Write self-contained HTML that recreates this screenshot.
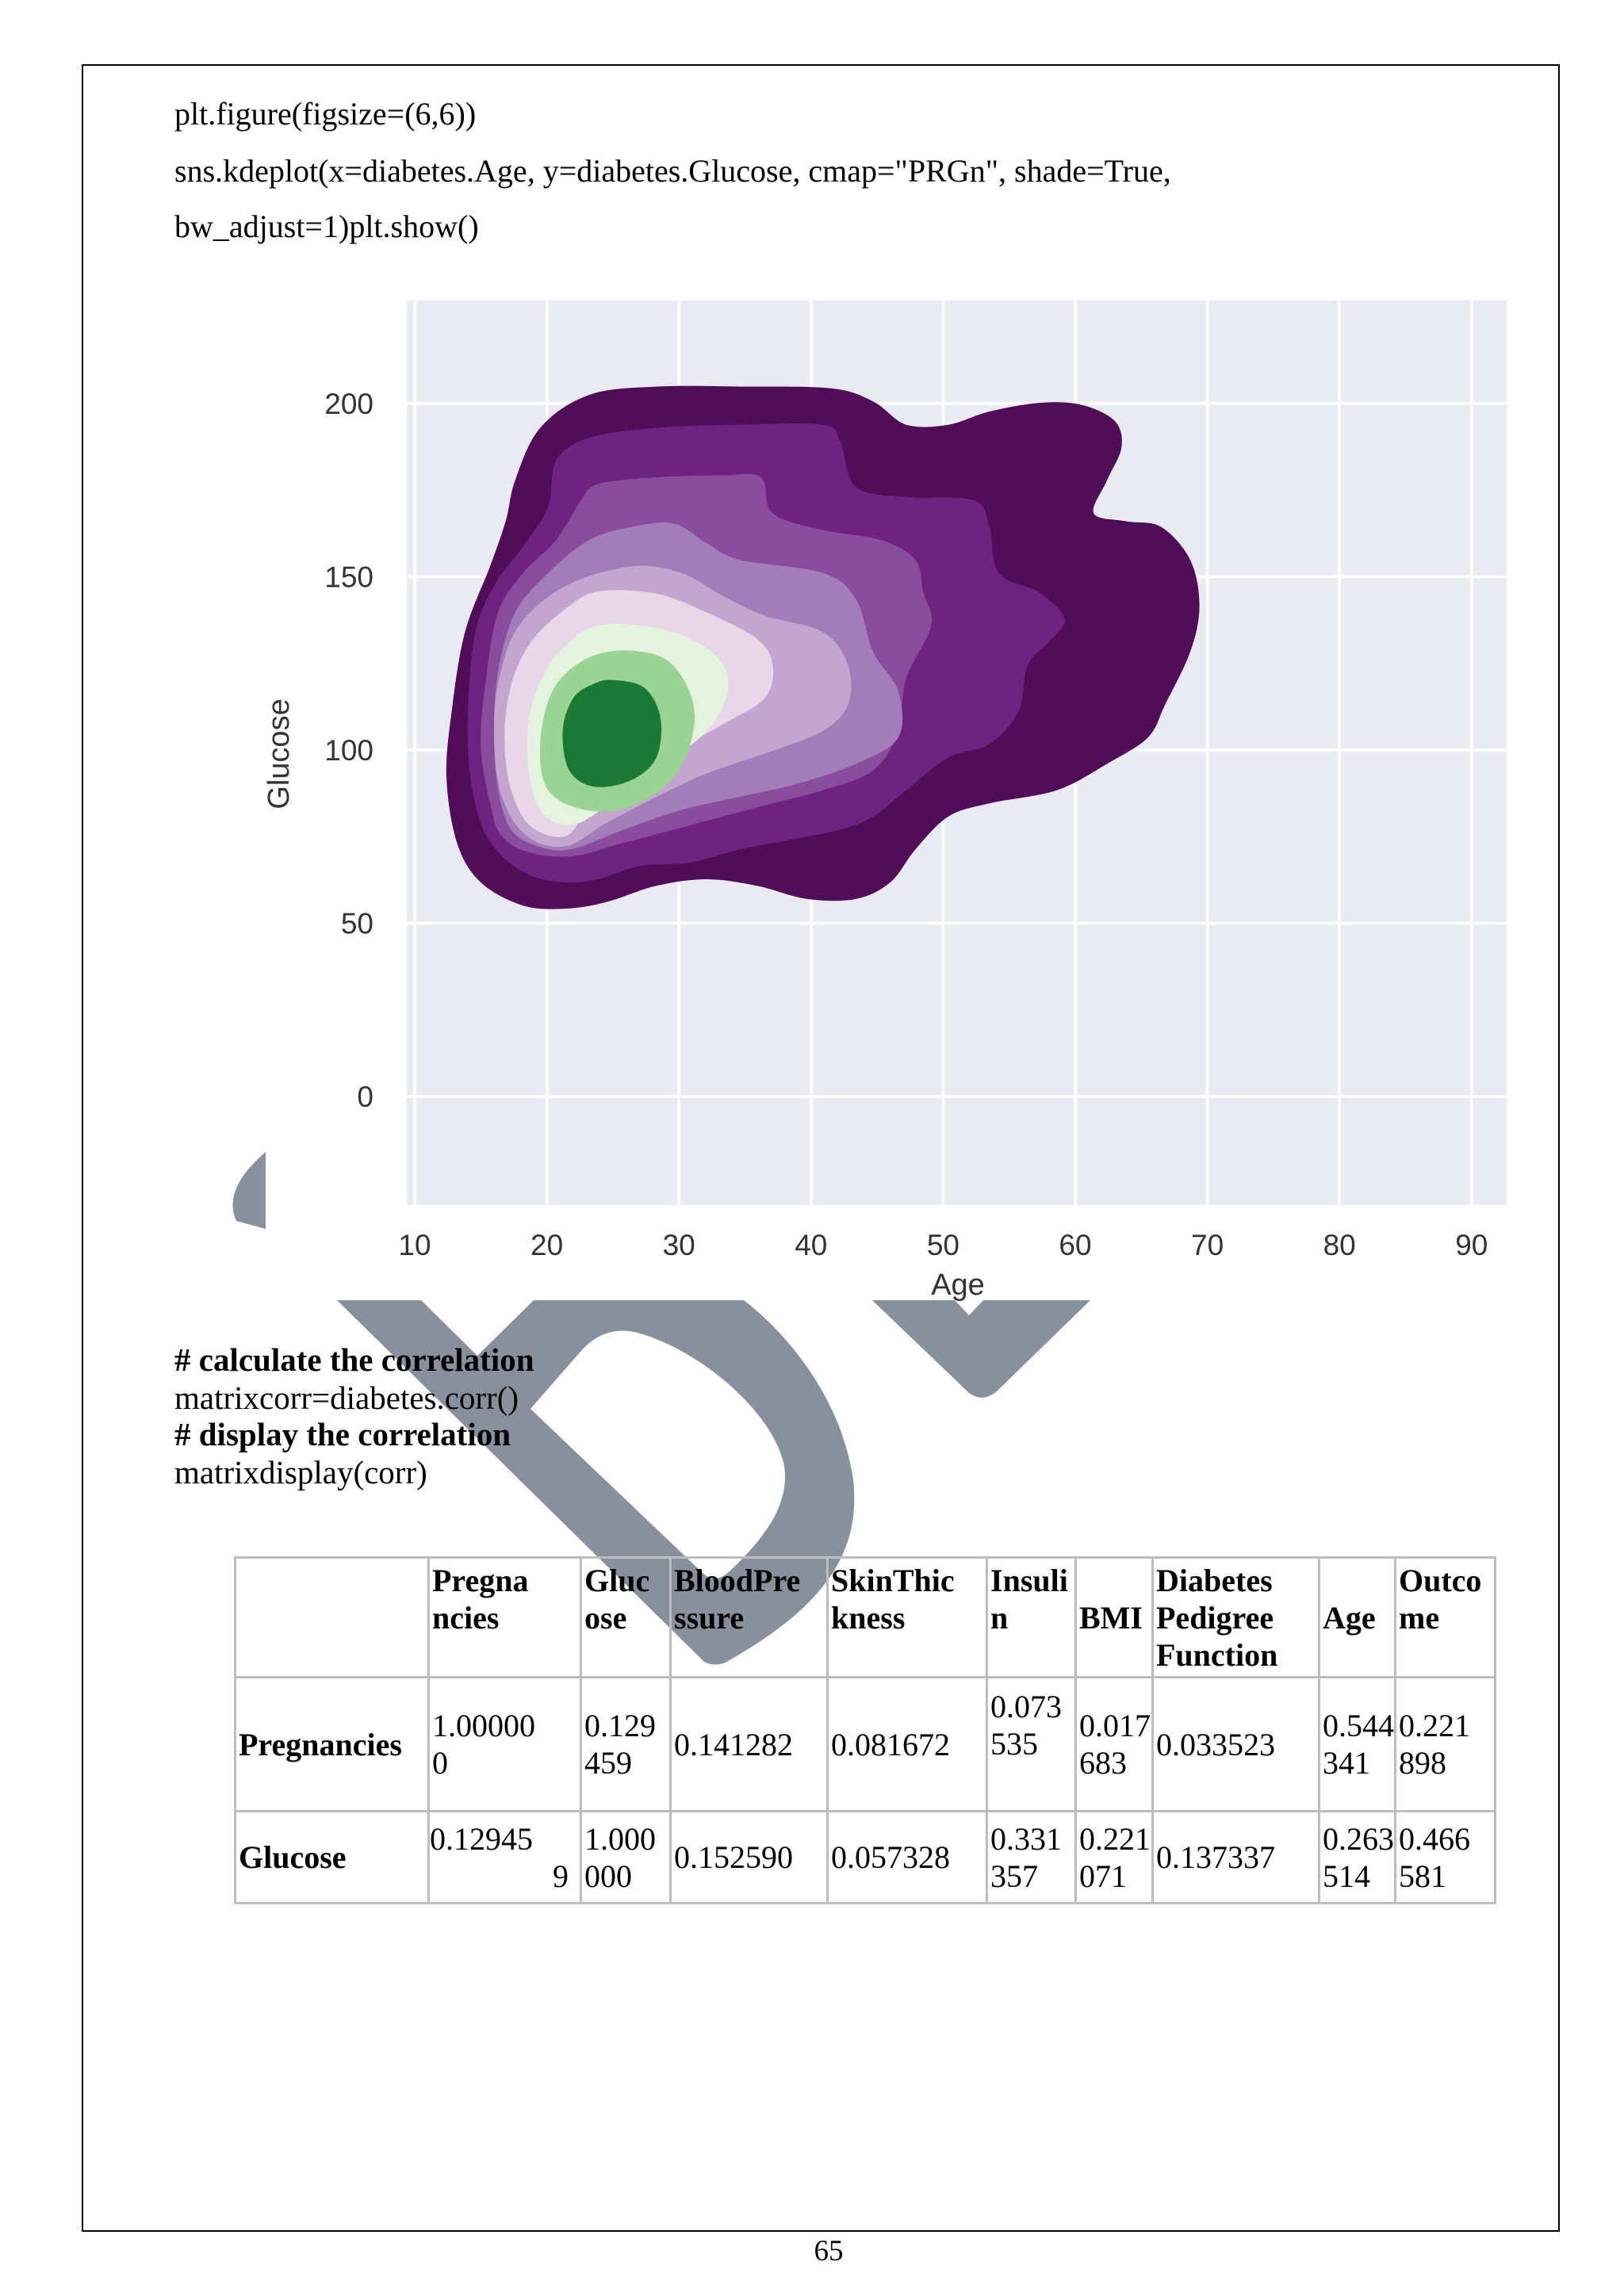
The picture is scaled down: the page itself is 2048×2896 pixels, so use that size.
<!DOCTYPE html>
<html><head><meta charset="utf-8">
<style>
html,body{margin:0;padding:0;background:#fff;}
body{width:2048px;height:2896px;position:relative;overflow:hidden;font-family:"Liberation Serif",serif;color:#000;}
.abs{position:absolute;}
.code{left:220px;font-size:40px;line-height:47px;white-space:nowrap;}
.code2{left:220px;font-size:41px;line-height:47px;white-space:nowrap;}
table{position:absolute;left:295px;top:1963px;width:1589px;table-layout:fixed;border-collapse:collapse;font-family:"Liberation Serif",serif;font-size:40px;line-height:47px;}
td{border:3px solid #bdbdbd;padding:0 3px;vertical-align:middle;text-align:left;overflow:visible;white-space:nowrap;}
th{border:3px solid #bdbdbd;padding:0 3px;vertical-align:middle;text-align:left;font-weight:bold;overflow:visible;white-space:nowrap;}
</style></head>
<body>
<div class="abs" style="left:103px;top:81px;width:1860px;height:2730px;border:2px solid #000;"></div>

<div class="abs code" style="top:120px;">plt.figure(figsize=(6,6))</div>
<div class="abs code" style="top:192px;">sns.kdeplot(x=diabetes.Age, y=diabetes.Glucose, cmap="PRGn", shade=True,</div>
<div class="abs code" style="top:262px;">bw_adjust=1)plt.show()</div>

<svg class="abs" id="chart" style="left:0;top:0" width="2048" height="1700" xmlns="http://www.w3.org/2000/svg"></svg>

<svg class="abs" style="left:0;top:0" width="2048" height="2896" xmlns="http://www.w3.org/2000/svg">
<path fill="#87909c" d="M335,1453 Q280,1500 298,1540 L335,1550 Z"/>
<path fill="#87909c" fill-rule="evenodd"
d="M425,1640 L938,1640 C990,1680 1060,1760 1076,1866 C1085,1950 1050,2020 920,2094 Q905,2104 888,2096 Z
M531,1640 L673,1640 L602,1710 Z
M669,1777 L731,1706 Q760,1672 800,1680 C880,1700 975,1780 989,1849 C995,1890 975,1930 920,1982 Q900,2000 884,1982 Z"/>
<path fill="#87909c" fill-rule="evenodd"
d="M1100,1640 L1375,1640 L1258,1754 Q1240,1770 1222,1757 Z M1204,1640 L1240,1640 L1222,1659 Z"/>
</svg>

<div class="abs code2" style="top:1692px;font-weight:bold;"># calculate the correlation</div>
<div class="abs code2" style="top:1740px;">matrixcorr=diabetes.corr()</div>
<div class="abs code2" style="top:1786px;font-weight:bold;"># display the correlation</div>
<div class="abs code2" style="top:1834px;">matrixdisplay(corr)</div>

<table>
<colgroup><col style="width:244px"><col style="width:192px"><col style="width:113px"><col style="width:198px"><col style="width:201px"><col style="width:112px"><col style="width:97px"><col style="width:210px"><col style="width:96px"><col style="width:126px"></colgroup>
<tr style="height:151px">
<th></th>
<th>Pregna<br>ncies<br>&nbsp;</th>
<th>Gluc<br>ose<br>&nbsp;</th>
<th>BloodPre<br>ssure<br>&nbsp;</th>
<th>SkinThic<br>kness<br>&nbsp;</th>
<th>Insuli<br>n<br>&nbsp;</th>
<th>BMI</th>
<th>Diabetes<br>Pedigree<br>Function</th>
<th>Age</th>
<th>Outco<br>me<br>&nbsp;</th>
</tr>
<tr style="height:169px">
<th>Pregnancies</th><td>1.00000<br>0</td><td>0.129<br>459</td><td>0.141282</td><td>0.081672</td><td style="padding-bottom:48px">0.073<br>535</td><td>0.017<br>683</td><td>0.033523</td><td>0.544<br>341</td><td>0.221<br>898</td>
</tr>
<tr style="height:116px">
<th>Glucose</th><td style="padding-left:0;padding-right:14px">0.12945<br><span style="float:right">9</span></td><td>1.000<br>000</td><td>0.152590</td><td>0.057328</td><td>0.331<br>357</td><td>0.221<br>071</td><td>0.137337</td><td>0.263<br>514</td><td>0.466<br>581</td>
</tr>
</table>

<div class="abs" style="left:1000px;top:2818px;width:90px;text-align:center;font-size:37px;">65</div>

<script>
// KDE contour levels (age, glucose), outermost first
const levelColors = ["#510d58","#6f2380","#8a4c9c","#a27db8","#c3a6d0","#e8d6e9","#e3f3de","#9ad393","#1b7837"];
const level1Age = [17.6,19.5,23.2,28.3,34.6,41.5,44.7,47.2,50.4,53.5,57.3,60.5,63.0,63.5,62.4,61.4,63.9,66.5,68.7,69.4,68.7,66.8,65.5,62.4,58.6,53.5,50.4,47.9,46.0,43.4,39.7,35.9,32.1,28.3,24.5,21.4,18.2,15.0,13.2,12.4,12.8,13.8,15.7,16.9];
const level1Glu = [177.8,193.0,202.5,204.9,204.9,204.4,200.6,193.9,193.9,197.7,200.2,199.6,194.9,187.3,177.8,168.3,166.0,164.4,154.9,141.6,128.3,113.1,103.6,96.0,88.4,84.6,80.8,71.3,61.8,57.0,57.0,60.8,62.7,60.8,56.1,54.2,55.1,61.8,73.2,92.2,111.2,134.0,153.0,166.3];
const level2Age = [20.7,23.2,28.3,34.6,40.9,42.2,43.4,47.2,52.3,53.5,54.2,57.3,59.2,58.0,56.4,55.7,53.5,50.4,47.2,44.7,42.2,38.4,34.6,30.8,27.0,23.9,21.4,18.8,16.6,15.0,14.1,14.1,14.7,16.3,18.2,20.1];
const level2Glu = [183.5,190.1,193.0,193.9,193.9,189.2,175.9,173.0,172.1,164.4,151.1,145.4,137.8,131.2,124.5,111.2,101.7,97.9,88.4,80.8,77.0,74.1,71.3,67.5,66.5,62.7,61.8,63.7,69.4,78.9,96.0,116.9,135.9,149.2,158.7,170.2];
const level3Age = [23.9,28.3,33.3,36.2,37.1,40.9,45.3,47.9,48.5,49.1,47.2,46.6,44.7,40.9,37.1,33.3,29.6,25.8,22.0,18.8,16.6,15.7,15.0,15.4,16.3,18.2,20.7,22.6];
const level3Glu = [176.8,178.7,179.3,178.7,168.3,163.5,160.6,154.9,145.4,135.9,120.7,105.5,94.1,88.4,84.6,80.8,77.0,73.2,69.4,70.3,75.1,84.6,101.7,120.7,139.7,151.1,160.6,172.1];
const level4Age = [26.4,29.6,32.1,34.6,40.9,43.4,44.7,46.6,46.6,43.4,39.0,34.6,30.2,25.8,22.0,19.5,17.3,16.3,16.0,16.3,17.6,20.1,23.2];
const level4Glu = [164.4,165.4,159.7,154.9,151.1,143.5,128.3,116.9,103.6,96.0,90.3,86.5,82.7,77.0,71.5,72.0,77.0,89.0,105.5,122.6,139.7,151.1,160.6];
const level5Age = [26.4,30.2,33.3,36.5,40.9,42.8,42.8,40.9,37.1,32.1,28.3,24.5,21.4,18.5,16.6,16.0,16.4,17.9,21.4];
const level5Glu = [153.0,151.1,144.5,138.8,134.0,124.5,113.1,105.5,99.8,93.2,86.5,78.9,72.2,75.1,86.5,103.6,120.7,135.9,147.3];
const level6Age = [23.9,28.3,32.1,35.9,37.1,36.5,33.3,30.2,26.4,23.2,21.4,18.8,17.3,16.8,17.3,18.8,21.4];
const level6Glu = [145.8,145.1,139.7,132.1,124.5,115.0,107.4,100.8,92.2,82.7,75.1,77.9,88.4,103.6,118.8,131.2,140.7];
const level7Age = [24.5,29.6,33.0,33.7,32.1,28.3,24.5,22.0,19.8,18.7,18.6,19.6,21.7];
const level7Glu = [136.3,134.0,126.4,116.9,105.5,94.1,83.7,78.5,81.2,92.2,107.4,120.7,131.2];
const level8Age = [25.5,28.9,30.8,31.1,29.6,26.4,22.9,20.1,19.5,20.4,22.6];
const level8Glu = [128.7,126.4,116.9,105.5,92.2,83.7,82.7,88.4,101.7,116.9,125.5];
const level9Age = [25.1,27.4,28.6,28.3,26.4,23.6,21.7,21.2,22.0,23.6];
const level9Glu = [120.2,117.9,109.3,97.9,91.3,89.4,94.1,105.5,115.0,119.2];
const xTicks = [10,20,30,40,50,60,70,80,90];
const yTicks = [0,50,100,150,200];
const xLabel = "Age";
const yLabel = "Glucose";

const levelsAge = [level1Age,level2Age,level3Age,level4Age,level5Age,level6Age,level7Age,level8Age,level9Age];
const levelsGlu = [level1Glu,level2Glu,level3Glu,level4Glu,level5Glu,level6Glu,level7Glu,level8Glu,level9Glu];

const NS = "http://www.w3.org/2000/svg";
const svg = document.getElementById("chart");
const plot = {left:513, right:1900, top:379, bottom:1520};
function xScale(v){ return 523 + (v - 10) * 16.66; }
function yScale(v){ return 1383 - v * 4.37; }

function mk(tag, attrs){
  const e = document.createElementNS(NS, tag);
  for (const k in attrs) e.setAttribute(k, attrs[k]);
  svg.appendChild(e);
  return e;
}
const bg = mk("rect", {x:plot.left, y:plot.top, width:plot.right-plot.left, height:plot.bottom-plot.top, fill:"#eaeaf2"});



xTicks.forEach(t => {
  const g = mk("line", {x1:xScale(t), x2:xScale(t), y1:plot.top, y2:plot.bottom, stroke:"#fff", "stroke-width":3.5});
  
  
  const l = mk("text", {x:xScale(t), y:1583, "text-anchor":"middle", "font-family":"Liberation Sans, sans-serif", "font-size":37, fill:"#333"});
  l.textContent = t;
  
  
});
yTicks.forEach(t => {
  const g = mk("line", {x1:plot.left, x2:plot.right, y1:yScale(t), y2:yScale(t), stroke:"#fff", "stroke-width":3.5});
  
  
  const l = mk("text", {x:471, y:yScale(t)+13, "text-anchor":"end", "font-family":"Liberation Sans, sans-serif", "font-size":37, fill:"#333"});
  l.textContent = t;
  
  
});

function smoothPath(pts){
  const n = pts.length;
  let d = "M" + pts[0][0].toFixed(1) + "," + pts[0][1].toFixed(1);
  for (let i = 0; i < n; i++){
    const p0 = pts[(i-1+n)%n], p1 = pts[i], p2 = pts[(i+1)%n], p3 = pts[(i+2)%n];
    const c1x = p1[0] + (p2[0]-p0[0])/6, c1y = p1[1] + (p2[1]-p0[1])/6;
    const c2x = p2[0] - (p3[0]-p1[0])/6, c2y = p2[1] - (p3[1]-p1[1])/6;
    d += "C" + c1x.toFixed(1)+","+c1y.toFixed(1)+" "+c2x.toFixed(1)+","+c2y.toFixed(1)+" "+p2[0].toFixed(1)+","+p2[1].toFixed(1);
  }
  return d + "Z";
}
levelsAge.forEach((ages, i) => {
  const pts = ages.map((a, j) => [xScale(a), yScale(levelsGlu[i][j])]);
  const p = mk("path", {d:smoothPath(pts), fill:levelColors[i]});
  
  
});

const xl = mk("text", {x:1208, y:1633, "text-anchor":"middle", "font-family":"Liberation Sans, sans-serif", "font-size":38, fill:"#333"});
xl.textContent = xLabel;


const yl = mk("text", {x:0, y:0, "text-anchor":"middle", "font-family":"Liberation Sans, sans-serif", "font-size":38, fill:"#333", transform:"translate(364,951) rotate(-90)"});
yl.textContent = yLabel;


</script>
</body></html>
